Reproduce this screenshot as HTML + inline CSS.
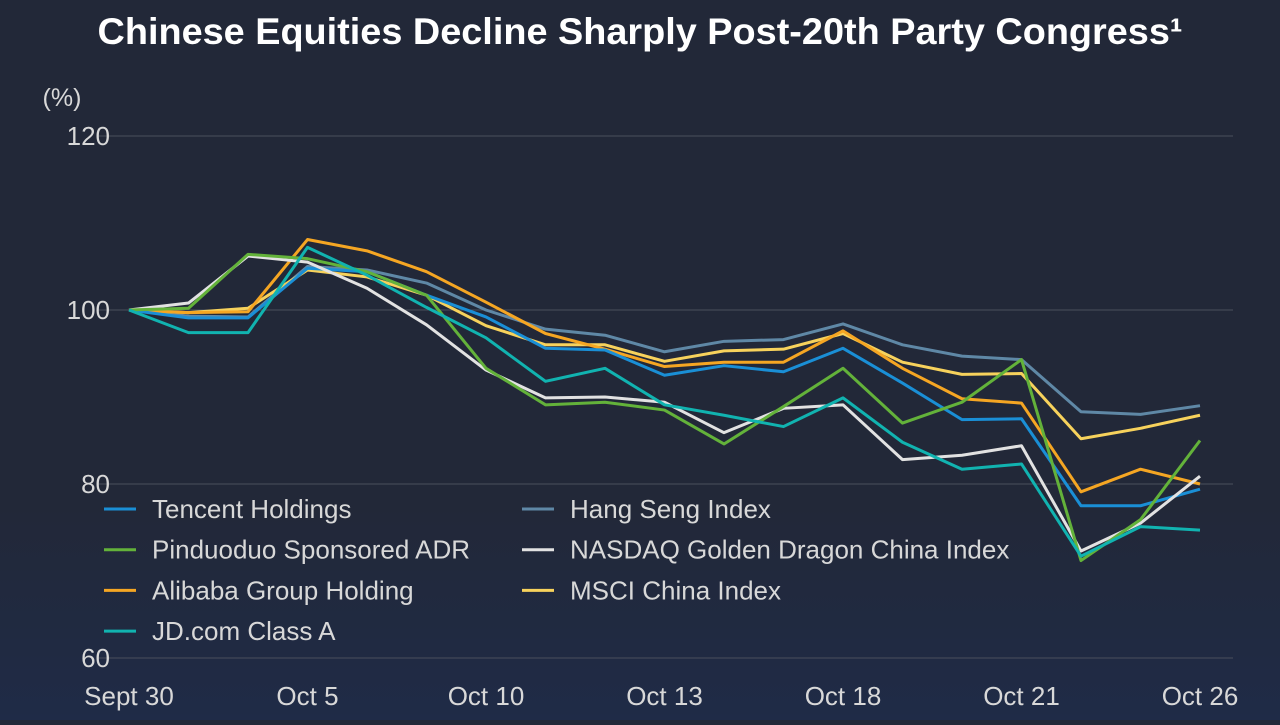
<!DOCTYPE html>
<html><head><meta charset="utf-8">
<style>
html,body{margin:0;padding:0;}
body{width:1280px;height:720px;overflow:hidden;background:linear-gradient(#222838 0%,#222838 70%,#1f2b47 100%);font-family:"Liberation Sans",sans-serif;}
</style></head>
<body>
<svg id="chart" width="1280" height="720" viewBox="0 0 1280 720" xmlns="http://www.w3.org/2000/svg">
<text x="640" y="44" text-anchor="middle" fill="#ffffff" font-size="37" font-weight="bold" textLength="1085" lengthAdjust="spacingAndGlyphs" font-family="Liberation Sans, sans-serif">Chinese Equities Decline Sharply Post-20th Party Congress¹</text>
<text x="62" y="106" text-anchor="middle" fill="#d8d8d8" font-size="25">(%)</text>
<g id="grid"></g><g id="yticks"></g><g id="xticks"></g><g id="series"></g><g id="legend"></g>
</svg>
<script>
const categories=["Sept 30","","","Oct 5","","","Oct 10","","","Oct 13","","","Oct 18","","","Oct 21","","","Oct 26"];
const yTicks=[120,100,80,60];
const tencent=[100,99.1,99.1,104.8,104.4,101.7,99.2,95.6,95.4,92.5,93.6,92.9,95.6,91.6,87.4,87.5,77.5,77.5,79.4];
const hangSeng=[100,99.3,99.2,105,104.6,103.1,100,97.8,97.1,95.2,96.4,96.6,98.4,96,94.7,94.3,88.3,88.0,89.0];
const pinduoduo=[100,100.2,106.4,105.9,104.4,101.7,93.3,89.1,89.4,88.5,84.6,88.9,93.3,87,89.4,94.3,71.2,75.9,85];
const nasdaq=[100,100.8,106.2,105.5,102.5,98.3,93.1,89.9,90,89.4,85.9,88.7,89.1,82.8,83.3,84.4,72.3,75.5,80.9];
const alibaba=[100,99.7,99.8,108.1,106.8,104.4,100.9,97.3,95.5,93.5,94,94,97.6,93.3,89.8,89.3,79.1,81.7,80];
const msci=[100,99.7,100.2,104.6,103.8,101.7,98.2,96,96,94.1,95.3,95.5,97.3,94,92.6,92.7,85.2,86.4,87.9];
const jd=[100,97.4,97.4,107.2,104,100.3,96.8,91.8,93.3,89.1,87.9,86.6,89.9,84.8,81.7,82.3,71.7,75.1,74.7];
const seriesNames=["Tencent Holdings","Hang Seng Index","Pinduoduo Sponsored ADR","NASDAQ Golden Dragon China Index","Alibaba Group Holding","MSCI China Index","JD.com Class A"];

const NS="http://www.w3.org/2000/svg";
const x0=129,x1=1200,yTop=136,yBot=658,vTop=120,vBot=60;
const xs=i=>x0+(x1-x0)*i/(categories.length-1);
const ys=v=>yBot-(v-vBot)/(vTop-vBot)*(yBot-yTop);
function mk(tag,attrs,parent){const e=document.createElementNS(NS,tag);for(const k in attrs)e.setAttribute(k,attrs[k]);parent.appendChild(e);return e;}
const grid=document.getElementById('grid'),yt=document.getElementById('yticks'),xt=document.getElementById('xticks');
yTicks.forEach(v=>{
  const l=mk('line',{x1:97,x2:1233,y1:ys(v),y2:ys(v),stroke:'#4a4f5c','stroke-width':1},grid);
  
  
  const t=mk('text',{x:110,y:ys(v)+9,'text-anchor':'end',fill:'#d8d8d8','font-size':26},yt);
  t.textContent=v;
  
  
});
categories.forEach((c,i)=>{
  if(!c)return;
  const t=mk('text',{x:xs(i),y:705,'text-anchor':'middle',fill:'#d8d8d8','font-size':26},xt);
  t.textContent=c;
  
  
});
const data=[tencent,hangSeng,pinduoduo,nasdaq,alibaba,msci,jd];
const colors=["#1a8fd6","#5f88a6","#63b23a","#e2e2e2","#f5a623","#f7d25c","#11b3b0"];
const sg=document.getElementById('series');
const order=[1,5,4,0,3,2,6];
order.forEach(k=>{
  const p=mk('polyline',{points:data[k].map((v,i)=>xs(i)+','+ys(v)).join(' '),fill:'none',stroke:colors[k],'stroke-width':3,'stroke-linejoin':'round'},sg);
  
  
});
const lg=document.getElementById('legend');
const legPos=[[0,0],[1,0],[0,1],[1,1],[0,2],[1,2],[0,3]];
seriesNames.forEach((n,k)=>{
  const [c,r]=legPos[k];
  const lx=c?522:104, ly=509+r*40.7;
  const g=mk('g',{},lg);
  
  
  mk('line',{x1:lx,x2:lx+32,y1:ly,y2:ly,stroke:colors[k],'stroke-width':3},g);
  const t=mk('text',{x:lx+48,y:ly+9,fill:'#d8d8d8','font-size':26},g);
  t.textContent=n;
});
</script>
</body></html>
